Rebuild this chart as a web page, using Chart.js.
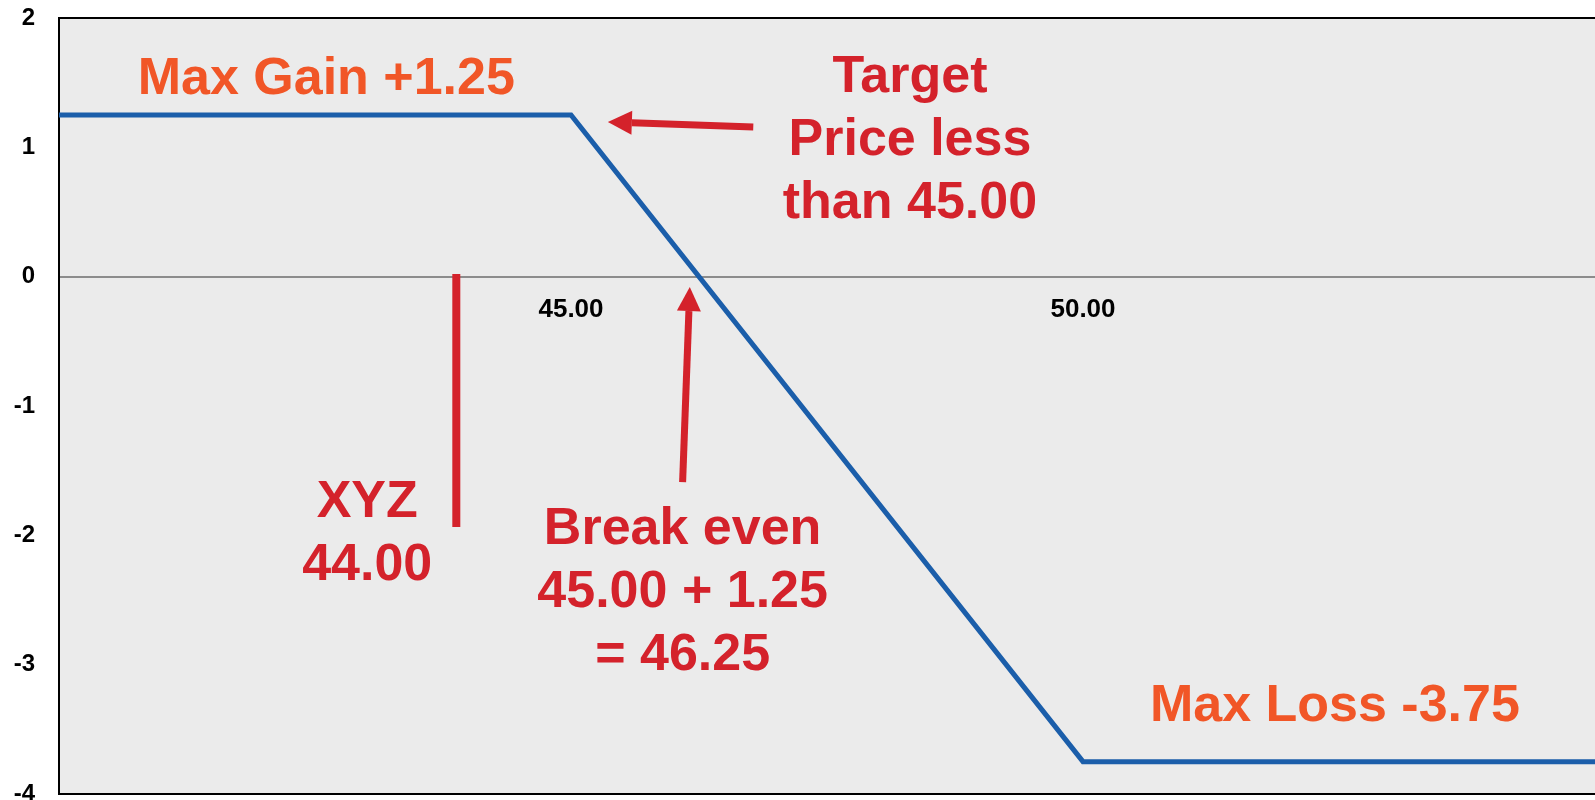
<!DOCTYPE html>
<html>
<head>
<meta charset="utf-8">
<script src="https://cdn.jsdelivr.net/npm/chart.js@4"></script>
<style>
html, body { margin: 0; padding: 0; background: #fff; }
</style>
</head>
<body>
<canvas id="mycanvas" width="1595" height="800"></canvas>
<script>
// payoff of the trade at expiration
var prices = [40, 45, 50, 55];
var profit = [1.25, 1.25, -3.75, -3.75];
var xTickValues = [45, 50];
var yTickValues = [2, 1, 0, -1, -2, -3, -4];

var ORANGE = '#f15627';
var RED = '#d4222b';
var FONT = '"Liberation Sans", Arial, sans-serif';

// callouts, placed in chart units (price, profit)
var notes = [
	{ x: 42.61, y: 1.412, color: ORANGE, lines: ['Max Gain +1.25'] },
	{ x: 48.31, y: 1.428, color: RED, lines: ['Target', 'Price less', 'than 45.00'] },
	{ x: 43.01, y: -1.858, color: RED, lines: ['XYZ', '44.00'] },
	{ x: 46.09, y: -2.067, color: RED, lines: ['Break even', '45.00 + 1.25', '= 46.25'] },
	{ x: 52.46, y: -3.436, color: ORANGE, lines: ['Max Loss -3.75'] }
];
var arrows = [
	{ x1: 46.78, y1: 1.157, x2: 45.36, y2: 1.196, head: true },
	{ x1: 46.09, y1: -1.588, x2: 46.16, y2: -0.080, head: true },
	{ x1: 43.88, y1: -1.936, x2: 43.88, y2: 0.021, head: false }
];

var drawNotes = {
	id: 'drawNotes',
	beforeDraw: function(chart) {
		var ctx = chart.ctx, a = chart.chartArea;
		ctx.save();
		ctx.fillStyle = '#ebebeb';
		ctx.fillRect(a.left, a.top, a.right - a.left, a.bottom - a.top);
		ctx.restore();
	},
	afterDatasetsDraw: function(chart) {
		var ctx = chart.ctx, a = chart.chartArea;
		var sx = chart.scales.x, sy = chart.scales.y;
		ctx.save();

		// frame top and bottom
		ctx.strokeStyle = '#000';
		ctx.lineWidth = 2;
		ctx.beginPath();
		ctx.moveTo(a.left, a.top);
		ctx.lineTo(a.right, a.top);
		ctx.moveTo(a.left, a.bottom);
		ctx.lineTo(a.right, a.bottom);
		ctx.stroke();

		arrows.forEach(function(r) {
			var x1 = sx.getPixelForValue(r.x1), y1 = sy.getPixelForValue(r.y1);
			var x2 = sx.getPixelForValue(r.x2), y2 = sy.getPixelForValue(r.y2);
			var ang = Math.atan2(y2 - y1, x2 - x1);
			var len = r.head ? 24 : 0;
			ctx.strokeStyle = RED;
			ctx.fillStyle = RED;
			ctx.lineWidth = r.head ? 7 : 8;
			ctx.beginPath();
			ctx.moveTo(x1, y1);
			ctx.lineTo(x2 - Math.cos(ang) * len, y2 - Math.sin(ang) * len);
			ctx.stroke();
			if (r.head) {
				ctx.beginPath();
				ctx.moveTo(x2, y2);
				ctx.lineTo(x2 - Math.cos(ang) * len + Math.sin(ang) * 12, y2 - Math.sin(ang) * len - Math.cos(ang) * 12);
				ctx.lineTo(x2 - Math.cos(ang) * len - Math.sin(ang) * 12, y2 - Math.sin(ang) * len + Math.cos(ang) * 12);
				ctx.closePath();
				ctx.fill();
			}
		});

		ctx.font = 'bold 52px ' + FONT;
		ctx.textAlign = 'center';
		ctx.textBaseline = 'alphabetic';
		notes.forEach(function(n) {
			var x = sx.getPixelForValue(n.x), y = sy.getPixelForValue(n.y);
			ctx.fillStyle = n.color;
			for (var i = 0; i < n.lines.length; i++) {
				ctx.fillText(n.lines[i], x, y + i * 63);
			}
		});
		ctx.restore();
	}
};

var chartdata = {
	datasets: [
	{
		label: 'Payoff',
		data: prices.map(function(p, i) { return { x: p, y: profit[i] }; }),
		borderColor: '#1b5eaa',
		borderWidth: 5,
		pointRadius: 0,
		tension: 0,
		fill: false
	}
	]
};

var ctx = document.getElementById('mycanvas');
var lineGraph = new Chart(ctx, {
	type: 'line',
	data: chartdata,
	plugins: [drawNotes],
	options: {
		responsive: false,
		animation: false,
		devicePixelRatio: 1,
		layout: { padding: { top: 18, bottom: 6, left: 0, right: 0 } },
		plugins: {
			legend: { display: false },
			tooltip: { enabled: false }
		},
		scales: {
			x: {
				type: 'linear',
				min: 40,
				max: 55,
				position: { y: 0 },
				grid: { display: false, drawTicks: false },
				border: { display: true, color: '#8c8c8c', width: 2 },
				afterBuildTicks: function(s) {
					s.ticks = xTickValues.map(function(v) { return { value: v }; });
				},
				afterFit: function(s) {
					s.paddingLeft = 0;
					s.paddingRight = 0;
				},
				ticks: {
					padding: 18,
					maxRotation: 0,
					color: '#000',
					font: { family: FONT, size: 26, weight: 'bold' },
					callback: function(v) { return v.toFixed(2); }
				}
			},
			y: {
				type: 'linear',
				min: -4,
				max: 2,
				grid: { display: false, drawTicks: false },
				border: { display: true, color: '#000', width: 2 },
				afterBuildTicks: function(s) {
					s.ticks = yTickValues.map(function(v) { return { value: v }; });
				},
				afterFit: function(s) {
					s.width = 59;
					s.paddingTop = 0;
					s.paddingBottom = 0;
				},
				ticks: {
					padding: 24,
					color: '#000',
					font: { family: FONT, size: 24, weight: 'bold' }
				}
			}
		}
	}
});
</script>
</body>
</html>
